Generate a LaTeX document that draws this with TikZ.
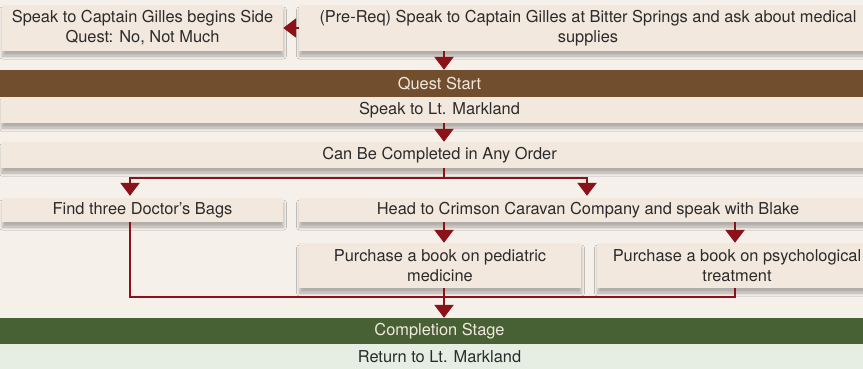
\documentclass[tikz,border=0pt]{standalone}
\usepackage{fontspec}
\setmainfont{TeX Gyre Heros}
\usepackage{tikz}
\usetikzlibrary{arrows.meta,positioning,shadows.blur}
\definecolor{paper}{HTML}{F6F0EA}
\definecolor{boxfill}{HTML}{F2E8DE}
\definecolor{textgray}{HTML}{2B2B2B}
\definecolor{brownbar}{HTML}{714F2E}
\definecolor{greenbar}{HTML}{476134}
\definecolor{palegreen}{HTML}{E6EEE3}
\definecolor{darkred}{HTML}{8B1219}

\begin{document}
\begin{tikzpicture}[
  x=1pt,y=-1pt,
  every node/.style={font=\fontsize{16.4}{20}\selectfont,text=textgray,align=center,inner sep=0pt},
  stepbox/.style={rectangle,fill=boxfill,minimum height=#1,
    blur shadow={shadow xshift=0.5pt,shadow yshift=-5pt,shadow blur radius=3pt,shadow opacity=28}},
  stepbox/.default=25pt,
  bar/.style={rectangle,fill=#1,minimum width=879pt,minimum height=27pt,text=boxfill},
  arr/.style={-{Triangle[width=19pt,length=13pt]},draw=darkred,line width=2.6pt},
  link/.style={draw=darkred,line width=2.6pt,line join=miter}
]
\clip (0,0) rectangle (863,368);
\fill[paper] (0,0) rectangle (863,368);
\coordinate (c1) at (130,0);
\coordinate (c2) at (444,0);
\coordinate (c3) at (587,0);
\coordinate (c4) at (735,0);
\node[stepbox=46pt,minimum width=281pt] (gilles) at (142.5,28) {Speak to Captain Gilles begins Side\\Quest: No, Not Much};
\node[stepbox=46pt,minimum width=578pt] (prereq) at (588,28) {(Pre-Req) Speak to Captain Gilles at Bitter Springs and ask about medical\\supplies};
\node[bar=brownbar] (start) at (439.5,83.5) {Quest Start};
\node[stepbox=26pt,minimum width=877pt] (markland) at (439.5,110) {Speak to Lt. Markland};
\node[stepbox=26pt,minimum width=877pt] (anyorder) at (439.5,155) {Can Be Completed in Any Order};
\node[stepbox=24pt,minimum width=281pt] (bags) at (142.5,210) {Find three Doctor’s Bags};
\node[stepbox=24pt,minimum width=578pt] (caravan) at (588,210) {Head to Crimson Caravan Company and speak with Blake};
\node[stepbox=45pt,minimum width=282pt] (pediatric) at (440,265.5) {Purchase a book on pediatric\\medicine};
\node[stepbox=45pt,minimum width=280pt] (psych) at (737,265.5) {Purchase a book on psychological\\treatment};
\node[bar=greenbar,minimum height=26pt] (complete) at (439.5,331) {Completion Stage};
\node[rectangle,fill=palegreen,minimum width=879pt,minimum height=26pt] (ret) at (439.5,357) {Return to Lt. Markland};
\coordinate (split) at (444,178);
\coordinate (join) at (444,297);
\draw[arr] (prereq.west) -- (gilles.east);
\draw[arr] (prereq.south -| c2) -- (start.north -| c2);
\draw[arr] (markland.south -| c2) -- (anyorder.north -| c2);
\draw[link] (anyorder.south -| c2) -- (split);
\draw[arr] (split) -| ([yshift=2pt]bags.north -| c1);
\draw[arr] (split) -| ([yshift=2pt]caravan.north -| c3);
\draw[arr] (caravan.south -| c2) -- (pediatric.north -| c2);
\draw[arr] (caravan.south -| c4) -- (psych.north -| c4);
\draw[link] (bags.south -| c1) |- (join) -| (psych.south -| c4);
\draw[arr] (pediatric.south -| c2) -- (complete.north -| c2);
\end{tikzpicture}
\end{document}
